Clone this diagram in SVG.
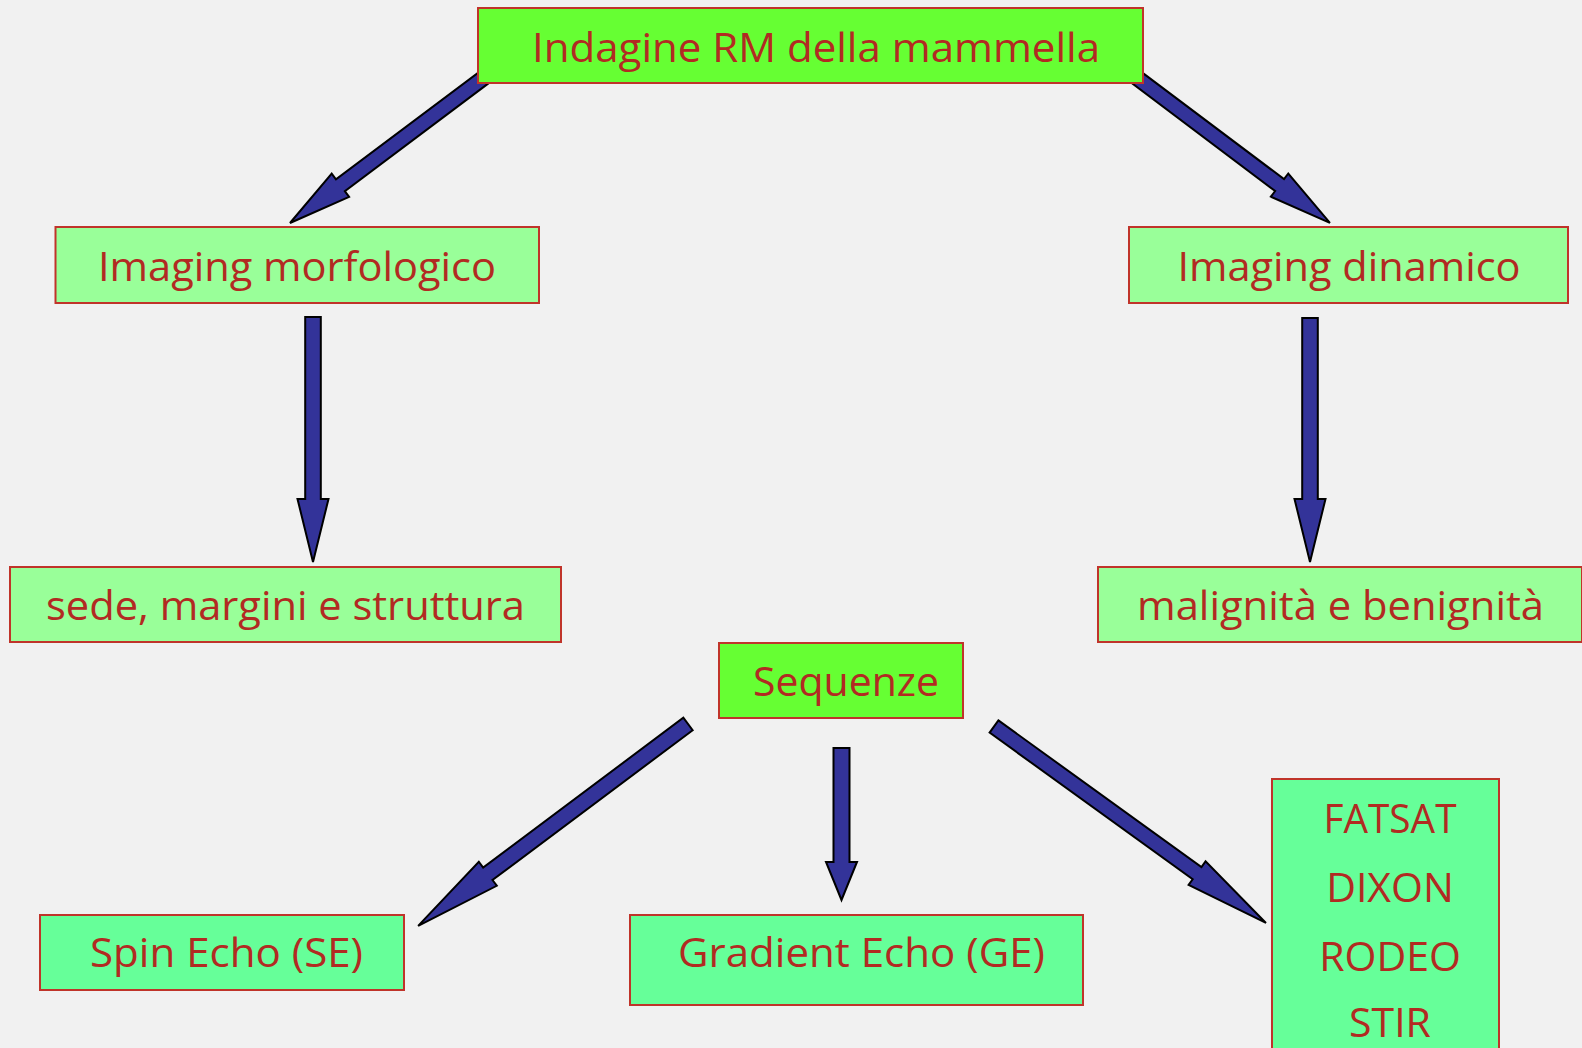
<svg xmlns="http://www.w3.org/2000/svg" width="1582" height="1048" viewBox="0 0 1582 1048">
<style>
.bg{fill:#f1f1f1}
.box{stroke:#c0342a;stroke-width:2}
.g1{fill:#66ff33}
.g2{fill:#99ff99}
.g3{fill:#66ff99}
.t{font-family:"Open Sans","Noto Sans","Liberation Sans",sans-serif;font-size:41px;fill:#b22a22;text-anchor:middle}
.arr{fill:#333399;stroke:#000;stroke-width:2;stroke-linejoin:miter}
</style>
<rect class="bg" x="0" y="0" width="1582" height="1048"/>
<g id="connectors">
<path class="arr" transform="translate(484,77.5) rotate(143.13)" d="M0,-7.4 L179.5,-7.4 L179.5,-14.5 L242.5,0 L179.5,14.5 L179.5,7.4 L0,7.4 Z"/>
<path class="arr" transform="translate(1136.5,77.5) rotate(36.94)" d="M0,-7.4 L179,-7.4 L179,-14.5 L242,0 L179,14.5 L179,7.4 L0,7.4 Z"/>
<path class="arr" transform="translate(313,317) rotate(90)" d="M0,-7.8 L182,-7.8 L182,-15.5 L245,0 L182,15.5 L182,7.8 L0,7.8 Z"/>
<path class="arr" transform="translate(1310,318) rotate(90)" d="M0,-7.8 L181,-7.8 L181,-15.5 L244,0 L181,15.5 L181,7.8 L0,7.8 Z"/>
<path class="arr" transform="translate(688,724) rotate(143.2)" d="M0,-7.8 L250,-7.8 L250,-15 L337,0 L250,15 L250,7.8 L0,7.8 Z"/>
<path class="arr" transform="translate(841.5,748) rotate(90)" d="M0,-8 L114,-8 L114,-15.5 L152,0 L114,15.5 L114,8 L0,8 Z"/>
<path class="arr" transform="translate(994,726.5) rotate(35.84)" d="M0,-7.5 L250.5,-7.5 L250.5,-14.5 L335.5,0 L250.5,14.5 L250.5,7.5 L0,7.5 Z"/>
</g>
<g id="n-indagine">
<rect class="box g1" x="478" y="8" width="665" height="75"/>
<text class="t" x="816" y="62" textLength="568" lengthAdjust="spacingAndGlyphs">Indagine RM della mammella</text>
</g>
<g id="n-morfologico">
<rect class="box g2" x="55.5" y="227" width="483.5" height="76"/>
<text class="t" x="297" y="281" textLength="398" lengthAdjust="spacingAndGlyphs">Imaging morfologico</text>
</g>
<g id="n-dinamico">
<rect class="box g2" x="1129" y="227" width="439" height="76"/>
<text class="t" x="1349" y="281" textLength="343" lengthAdjust="spacingAndGlyphs">Imaging dinamico</text>
</g>
<g id="n-sede">
<rect class="box g2" x="10" y="567" width="551" height="75"/>
<text class="t" x="285.5" y="619.5" textLength="479" lengthAdjust="spacingAndGlyphs">sede, margini e struttura</text>
</g>
<g id="n-malignita">
<rect class="box g2" x="1098" y="567" width="484" height="75"/>
<text class="t" x="1340.5" y="619.5" textLength="407" lengthAdjust="spacingAndGlyphs">malignità e benignità</text>
</g>
<g id="n-sequenze">
<rect class="box g1" x="719" y="643" width="244" height="75"/>
<text class="t" x="846" y="695.5" textLength="186" lengthAdjust="spacingAndGlyphs">Sequenze</text>
</g>
<g id="n-se">
<rect class="box g3" x="40" y="915" width="364" height="75"/>
<text class="t" x="226.5" y="967" textLength="273" lengthAdjust="spacingAndGlyphs">Spin Echo (SE)</text>
</g>
<g id="n-ge">
<rect class="box g3" x="630" y="915" width="453" height="90"/>
<text class="t" x="861.5" y="967" textLength="367" lengthAdjust="spacingAndGlyphs">Gradient Echo (GE)</text>
</g>
<g id="n-fatsat">
<rect class="box g3" x="1272" y="779" width="227" height="290"/>
<text class="t" x="1390" y="833" textLength="133" lengthAdjust="spacingAndGlyphs">FATSAT</text>
<text class="t" x="1390" y="902">DIXON</text>
<text class="t" x="1390" y="971">RODEO</text>
<text class="t" x="1390" y="1037">STIR</text>
</g>
</svg>
